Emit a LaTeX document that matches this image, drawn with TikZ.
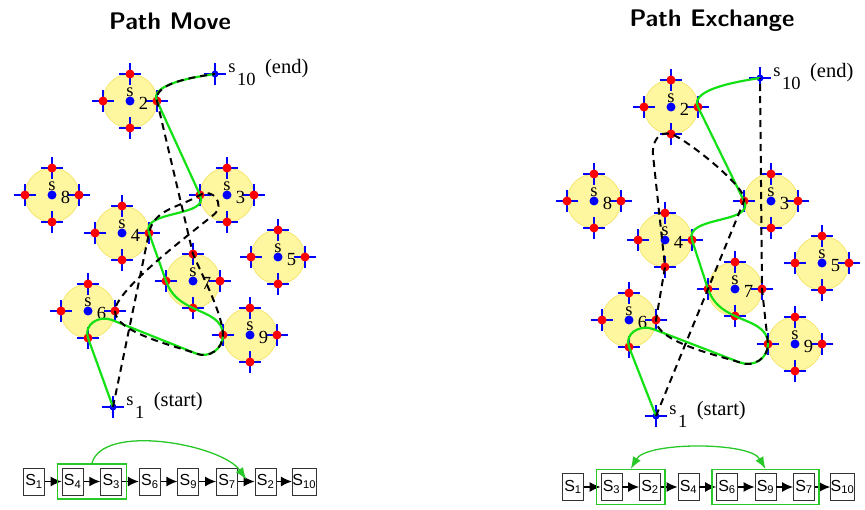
\documentclass[tikz,border=0pt]{standalone}
\usepackage{fontspec}
\newfontfamily\arialfont{Liberation Sans}
\newfontfamily\timesfont{Liberation Serif}
\usetikzlibrary{arrows.meta,positioning,fit,calc}

\definecolor{wpyellow}{RGB}{255,246,160}
\definecolor{wpedge}{RGB}{245,230,110}
\definecolor{pathgreen}{RGB}{20,225,20}
\definecolor{boxgreen}{RGB}{40,200,40}

\tikzset{
  wparea/.style={fill=wpyellow,draw=wpedge,line width=0.8pt},
  wpcross/.style={blue,line width=2.2pt},
  wplabel/.style={inner sep=0pt,font=\timesfont\fontsize{18.5}{18.5}\selectfont},
  wptag/.style={inner sep=0pt,font=\timesfont\fontsize{20.5}{20.5}\selectfont},
  newpath/.style={pathgreen,line width=2.2pt},
  oldpath/.style={black,line width=2pt,dash pattern=on 7pt off 5pt},
  seqbox/.style={draw=black!80,line width=0.9pt,minimum width=21pt,minimum height=27pt,
    inner sep=0pt,font=\arialfont\fontsize{16}{16}\selectfont},
  seqarrow/.style={-{Latex[length=11pt,width=10pt]},line width=1.3pt},
  groupbox/.style={draw=boxgreen,line width=1.3pt,inner xsep=4pt,inner ysep=3.5pt},
  grouparrow/.style={boxgreen,line width=1.3pt},
  paneltitle/.style={font=\sffamily\bfseries\fontsize{24}{24}\selectfont}
}

% waypoint disc with its four entry points: name, x, y, index
\newcommand{\waypoint}[4]{%
  \path[wparea] (#2,#3) circle (27pt);
  \coordinate (#1n) at (#2,#3+27);
  \coordinate (#1s) at (#2,#3-27);
  \coordinate (#1e) at (#2+27,#3);
  \coordinate (#1w) at (#2-27,#3);
  \foreach \d in {n,s,e,w} {
    \draw[wpcross] (#1\d) ++(-11,0) -- ++(22,0) (#1\d) ++(0,-11) -- ++(0,22);
    \fill[red] (#1\d) circle (4.5pt);
  }
  \fill[blue] (#2,#3) circle (4.5pt);
  \node[wplabel] (#1lbl) at (#2,#3+9) {s};
  \node[wplabel] (#1num) at (#2+13.5,#3-2.5) {#4};
}

% start / end point: name, x, y, index, tag
\newcommand{\tourend}[5]{%
  \coordinate (#1) at (#2,#3);
  \draw[wpcross] (#1) ++(-11,0) -- ++(22,0) (#1) ++(0,-11) -- ++(0,22);
  \fill[blue] (#1) circle (3.5pt);
  \node[wplabel] (#1lbl) at (#2+17,#3+6) {s};
  \node[wplabel,anchor=west] (#1num) at (#2+22,#3-5) {#4};
  \node[wptag,right=9pt of #1num,yshift=10pt] (#1tag) {#5};
}

\begin{document}
\begin{tikzpicture}[x=1pt,y=1pt]
  \useasboundingbox (0,0) rectangle (865,-510);

  % -------- titles --------
  \node[paneltitle] (movetitle) at (170,-21) {Path Move};
  \node[paneltitle] (exchtitle) at (712,-21) {Path Exchange};

  % -------- left: path move --------
  \waypoint{m2}{130}{-101}{2}
  \waypoint{m8}{52}{-195}{8}
  \waypoint{m3}{227}{-195}{3}
  \waypoint{m4}{122}{-233}{4}
  \waypoint{m5}{278}{-257}{5}
  \waypoint{m7}{193}{-281}{7}
  \waypoint{m6}{88}{-311}{6}
  \waypoint{m9}{250}{-335}{9}
  \tourend{m1}{113}{-407}{1}{(start)}
  \tourend{m10}{215}{-74}{10}{(end)}

  % tangent points of the turns
  \coordinate (mt1) at (112,-320);
  \coordinate (mt2) at (196,-353.5);
  \coordinate (mt3) at (214,-214.5);

  % new tour: s1 s6 s9 s7 s4 s3 s2 s10
  \draw[newpath] (m1) -- (m6s) to[out=110,in=158,looseness=1.2] (mt1) -- (mt2)
    to[out=-22,in=-90,looseness=1.1] (m9w) to[out=90,in=-25] (m7s)
    to[out=155,in=-70] (m7w) -- (m4e) to[out=110,in=-65] (m3w) -- (m2e)
    to[out=116,in=188,looseness=0.75] (m10);
  % old tour: s1 s4 s3 s6 s9 s7 s2 s10
  \draw[oldpath] (m1) -- (m4e) to[out=78,in=211] (m3w)
    to[out=31,in=40,looseness=1.6] (mt3) to[out=-140,in=90,looseness=0.4] (m6e)
    to[out=-90,in=160,looseness=0.6] (mt2) to[out=-22,in=-90,looseness=1.1] (m9w)
    to[out=90,in=-67,looseness=0.6] (m7n) -- (m2e) to[out=103,in=188,looseness=0.75] (m10);

  % sequence
  \foreach \i/\s in {1/1,2/4,3/3,4/6,5/9,6/7,7/2,8/10} {
    \node[seqbox] (mq\i) at ({34+38.6*(\i-1)},-481.5) {S\textsubscript{\s}};
  }
  \foreach \i in {1,...,7} {
    \pgfmathtruncatemacro\j{\i+1}
    \draw[seqarrow] (mq\i) -- (mq\j);
  }
  \node[groupbox,fit=(mq2)(mq3)] (mg) {};
  \coordinate (mtip) at ($(mq6.east)!0.5!(mq7.west)+(0,2)$);
  \draw[grouparrow,-{Latex[length=12pt,width=9pt]}] (mg.north) to[out=75,in=125,looseness=0.7] (mtip);

  % -------- right: path exchange --------
  \waypoint{x2}{671}{-107}{2}
  \waypoint{x8}{594}{-201}{8}
  \waypoint{x3}{771}{-201}{3}
  \waypoint{x4}{665}{-240}{4}
  \waypoint{x5}{822}{-263}{5}
  \waypoint{x7}{735}{-289}{7}
  \waypoint{x6}{629}{-320}{6}
  \waypoint{x9}{795}{-344}{9}
  \tourend{x1}{656}{-416}{1}{(start)}
  \tourend{x10}{760}{-78}{10}{(end)}

  \coordinate (xt1) at (653,-329);
  \coordinate (xt2) at (740,-362.5);
  \coordinate (xt3) at (653,-155);

  % old tour: s1 s6 s9 s7 s4 s3 s2 s10
  \draw[newpath] (x1) -- (x6s) to[out=111,in=159,looseness=1.2] (xt1) -- (xt2)
    to[out=-21,in=-90,looseness=1.1] (x9w) to[out=90,in=-25] (x7s)
    to[out=155,in=-70] (x7w) -- (x4e) to[out=108,in=-64] (x3w) -- (x2e)
    to[out=116,in=189,looseness=0.75] (x10);
  % exchanged tour: s1 s3 s2 s4 s6 s9 s7 s10
  \draw[oldpath] (x1) -- (x3w) to[out=68,in=-15,looseness=0.35] (x2s)
    to[out=165,in=95,looseness=1.2] (xt3) -- (x4s) -- (x6e)
    to[out=-90,in=162,looseness=0.6] (xt2) to[out=-21,in=-90,looseness=1.1] (x9w)
    -- (x7e) -- (x10);

  % sequence
  \foreach \i/\s in {1/1,2/3,3/2,4/4,5/6,6/9,7/7,8/10} {
    \node[seqbox] (xq\i) at ({573+38.5*(\i-1)},-487) {S\textsubscript{\s}};
  }
  \foreach \i in {1,...,7} {
    \pgfmathtruncatemacro\j{\i+1}
    \draw[seqarrow] (xq\i) -- (xq\j);
  }
  \node[groupbox,fit=(xq2)(xq3)] (xg1) {};
  \node[groupbox,fit=(xq5)(xq7)] (xg2) {};
  \draw[grouparrow,{Latex[length=12pt,width=9pt]}-{Latex[length=12pt,width=9pt]}]
    (xg1.north) to[out=60,in=120,looseness=0.6] (xg2.north);

\end{tikzpicture}
\end{document}
